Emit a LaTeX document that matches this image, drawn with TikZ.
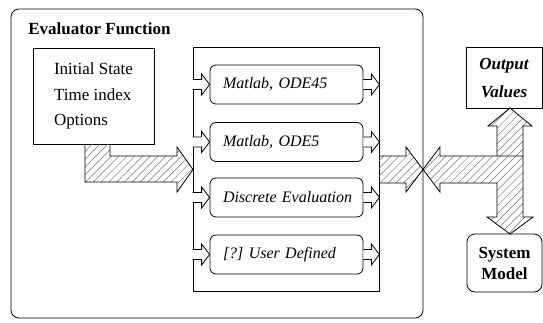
\documentclass[tikz,border=0pt]{standalone}
\usepackage{fontspec}
\setmainfont{Liberation Serif}
\usetikzlibrary{calc,patterns.meta}
\newcommand\openarr[2]{\draw[smallarr] ($(#1)+(0,-5)$) -- ($(#2)+(-8,-5)$) -- ($(#2)+(-8,-10.5)$) -- (#2) -- ($(#2)+(-8,10.5)$) -- ($(#2)+(-8,5)$) -- ($(#1)+(0,5)$);}
\begin{document}
\begin{tikzpicture}[x=1pt,y=-1pt,line width=0.8pt,
  rbox/.style={draw, rounded corners=6pt, minimum width=153pt, minimum height=39pt, inner xsep=13pt, inner ysep=0pt, text width=127pt, align=left, font=\fontsize{16}{19}\selectfont\itshape},
  hatch/.style={draw, pattern={Lines[angle=45,distance=5.5pt,line width=0.5pt]}, pattern color=black!55},
  smallarr/.style={draw, fill=white}]
\useasboundingbox (0,0) rectangle (543,322);
\node[draw, rounded corners=8pt, minimum width=412pt, minimum height=309pt] (outer) at (217,163.5) {};
\node[anchor=west, inner sep=0pt, font=\fontsize{17}{20}\selectfont\bfseries] (title) at (28,29) {Evaluator Function};
\node[draw, minimum width=121pt, minimum height=96pt, align=left, font=\fontsize{17}{25.5}\selectfont] (in) at (93.5,96) {Initial State\\Time index\\Options};
\node[draw, minimum width=186pt, minimum height=244pt] (mid) at (286,169) {};
\node[rbox] (b1) at (286.5,84.5) {\mbox{Matlab, ODE45}};
\node[rbox] (b2) at (286.5,142) {\mbox{Matlab, ODE5}};
\node[rbox] (b3) at (286.5,197.5) {\mbox{Discrete Evaluation}};
\node[rbox] (b4) at (286.5,254.5) {\mbox{[?]\ User Defined}};
\node[draw, minimum width=76pt, minimum height=61pt, align=center, font=\fontsize{17}{28}\selectfont\bfseries\itshape] (out) at (504,77.5) {Output\\Values};
\node[draw, rounded corners=8pt, minimum width=75pt, minimum height=58pt, align=center, font=\fontsize{17}{21}\selectfont\bfseries] (sys) at (504.5,263) {System\\Model};
% small open arrows
\foreach \b in {b1,b2,b3,b4}{
  \openarr{mid.west |- \b.west}{\b.west}
  \openarr{\b.east}{mid.east |- \b.east}
}
% hatched arrows
\draw[hatch] (85,144) -- (85,182) -- (177,182) -- (177,192) -- (193,169.5) -- (177,147) -- (177,156) -- (110,156) -- (110,144);
\draw[hatch] (379,156) -- (406,156) -- (406,147) -- (423,169.5) -- (406,192) -- (406,183) -- (379,183);
\draw[hatch] (423,169.5) -- (440,147) -- (440,156) -- (523,156) -- (523,217) -- (533,217) -- (510,234) -- (487,217) -- (497,217) -- (497,183) -- (440,183) -- (440,192) -- cycle;
\draw[hatch] (497,156) -- (497,126) -- (488,126) -- (510,108) -- (532,126) -- (523,126) -- (523,156);
\end{tikzpicture}
\end{document}
